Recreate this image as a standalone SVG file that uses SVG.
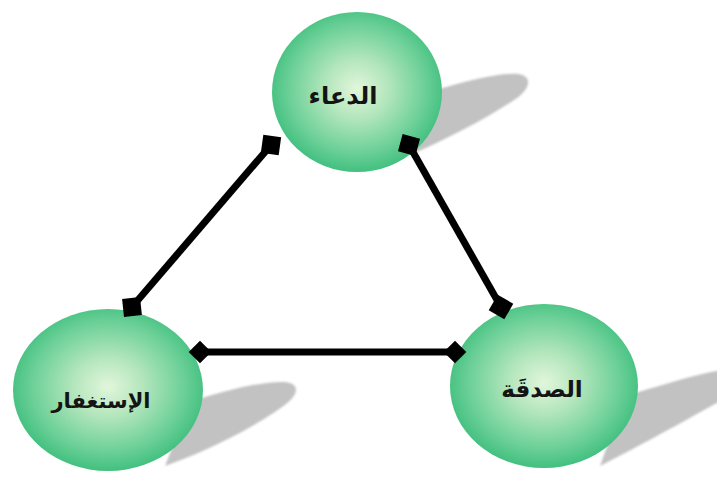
<svg xmlns="http://www.w3.org/2000/svg" xmlns:xlink="http://www.w3.org/1999/xlink" width="717" height="477" viewBox="0 0 717 477">
  <defs>
    <radialGradient id="ball" cx="50%" cy="48%" r="52%">
      <stop offset="0" stop-color="#e2f6dc"/>
      <stop offset="0.35" stop-color="#b4e6bc"/>
      <stop offset="0.75" stop-color="#6fd199"/>
      <stop offset="1" stop-color="#42c07f"/>
    </radialGradient>
    <filter id="soft" x="-10%" y="-10%" width="120%" height="120%">
      <feGaussianBlur stdDeviation="1.2"/>
    </filter>
    <rect id="sq" x="-9" y="-9" width="18" height="18" fill="#000"/>
    <rect id="dm" x="-8" y="-8" width="16" height="16" fill="#000" transform="rotate(45)"/>
    <style>
      .shadow { fill: #c2c2c2; filter: url(#soft); }
      .ball { fill: url(#ball); }
      .lbl { font-family: "DejaVu Sans", sans-serif; font-weight: bold; font-size: 24px; fill: #141414; text-anchor: middle; dominant-baseline: central; }
      .edge { stroke: #000; stroke-width: 7; fill: none; }
    </style>
  </defs>
  <rect width="717" height="477" fill="#fff"/>

  <g id="shadows">
    <path class="shadow" d="M 415 96 C 450 86 495 72 518 74 C 534 76 530 90 514 100 C 490 116 450 138 412 154 Z"/>
    <path class="shadow" d="M 190 402 C 220 392 260 381 285 382 C 302 384 298 396 282 407 C 260 423 220 446 165 466 Z"/>
    <path class="shadow" d="M 625 396 C 660 386 700 372 730 369 L 730 396 C 710 406 670 430 600 466 Z"/>
  </g>

  <g id="node-dua">
    <ellipse class="ball" cx="357" cy="92" rx="85" ry="80"/>
    <text class="lbl" x="343" y="96">الدعاء</text>
  </g>
  <g id="node-istighfar">
    <ellipse class="ball" cx="108" cy="390" rx="95" ry="81"/>
    <text class="lbl" x="101" y="401" style="font-size:21px">الإستغفار</text>
  </g>
  <g id="node-sadaqa">
    <ellipse class="ball" cx="544" cy="386" rx="94" ry="82"/>
    <text class="lbl" x="542" y="389" style="font-size:23px">الصدقَة</text>
  </g>

  <g id="connectors">
    <line class="edge" x1="271" y1="145" x2="132" y2="307"/>
    <line class="edge" x1="409" y1="145" x2="501" y2="307"/>
    <line class="edge" x1="200" y1="352" x2="455" y2="352"/>
    <use xlink:href="#sq" transform="translate(271,145) rotate(8)"/>
    <use xlink:href="#sq" transform="translate(132,307) rotate(-6)"/>
    <use xlink:href="#sq" transform="translate(409,145) rotate(15)"/>
    <use xlink:href="#sq" transform="translate(501,307) rotate(30)"/>
    <use xlink:href="#dm" transform="translate(200,352)"/>
    <use xlink:href="#dm" transform="translate(455,352)"/>
  </g>
</svg>
